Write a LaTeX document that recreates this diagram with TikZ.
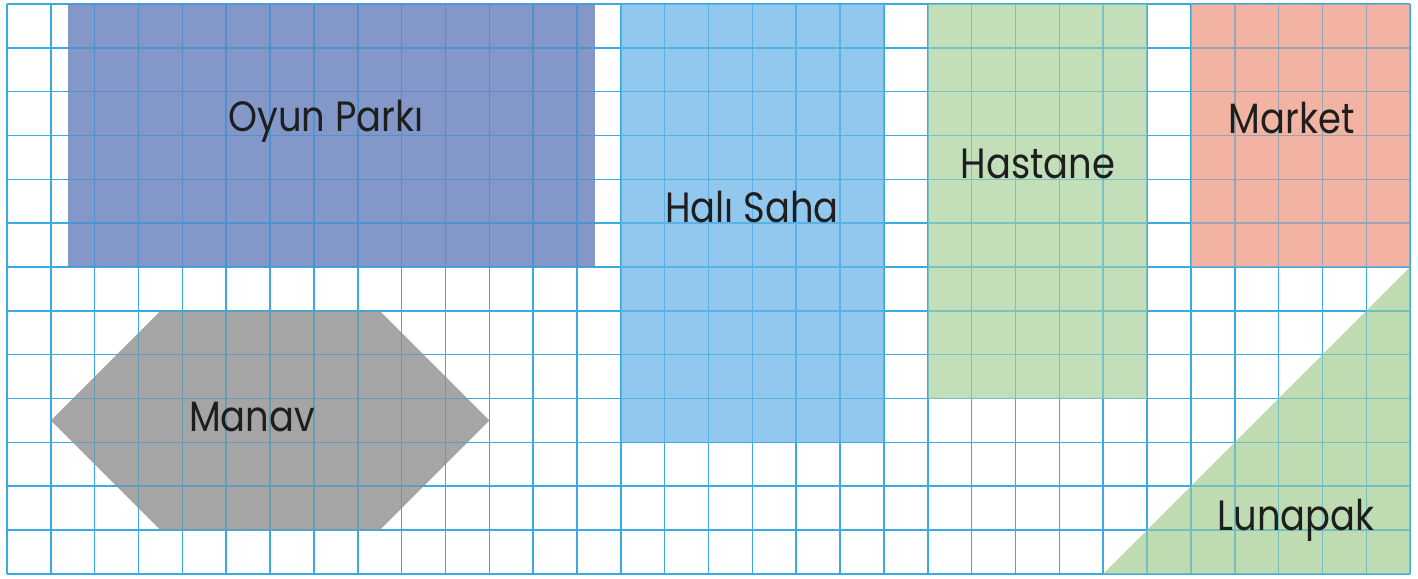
\documentclass[tikz,border=0pt]{standalone}
\usepackage{fontspec}
\setmainfont{Poppins}[FakeStretch=0.87]
\definecolor{gridc}{RGB}{58,170,226}
\definecolor{parkc}{RGB}{101,125,188}
\definecolor{sahac}{RGB}{119,187,233}
\definecolor{hastc}{RGB}{181,216,169}
\definecolor{markc}{RGB}{239,161,141}
\definecolor{manc}{RGB}{143,143,143}
\definecolor{lunac}{RGB}{174,211,159}
\definecolor{txtc}{RGB}{30,30,30}
\begin{document}
\begin{tikzpicture}[x=1cm,y=1cm,
  area/.style={fill opacity=0.8},
  lbl/.style={anchor=base,text=txtc,inner sep=0pt,font=\fontsize{27.5}{32}\selectfont}]
\useasboundingbox (-0.16,-0.11) rectangle (32.18,13.09);
\fill[white] (-0.16,-0.11) rectangle (32.18,13.09);
\draw[gridc,line width=1pt] (0,0) grid (32,13);
\fill[area,parkc] (1.39,7) rectangle (13.4,13);
\fill[area,sahac] (14,3) rectangle (20,13);
\fill[area,hastc] (21,4) rectangle (26,13);
\fill[area,markc] (27,7) rectangle (32,13);
\fill[area,manc] (1,3.5) -- (3.5,6) -- (8.5,6) -- (11,3.5) -- (8.5,1) -- (3.5,1) -- cycle;
\fill[area,lunac] (25,0) -- (32,0) -- (32,7) -- cycle;
\draw[gridc,line width=1pt,draw opacity=0.35] (0,0) grid (32,13);
\node[lbl] (park) at (7.27,10.08) {Oyun Parkı};
\node[lbl] (saha) at (16.99,8.01) {Halı Saha};
\node[lbl] (hast) at (23.51,9.03) {Hastane};
\node[lbl] (mark) at (29.30,10.04) {Market};
\node[lbl] (man) at (5.59,3.26) {Manav};
\node[lbl] (luna) at (29.40,1.0) {Lunapak};
\end{tikzpicture}
\end{document}
